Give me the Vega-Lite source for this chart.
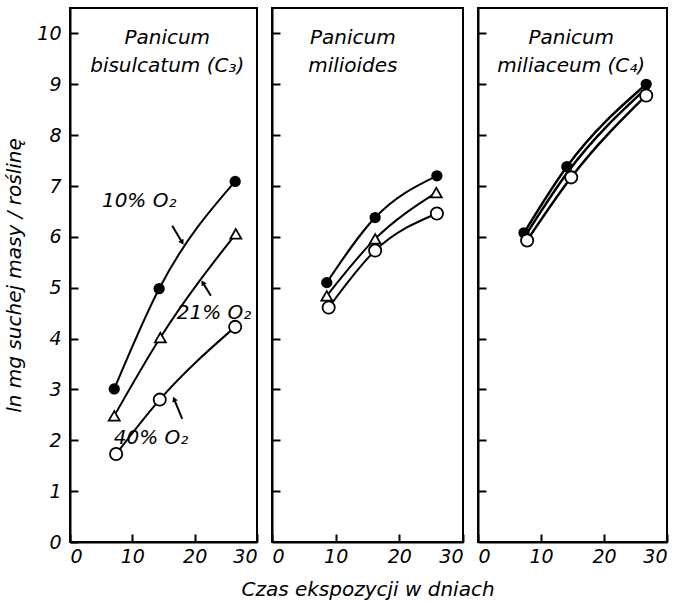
{
  "$schema": "https://vega.github.io/schema/vega-lite/v6.json",
  "background": "white",
  "padding": {"left": 3, "top": 7, "right": 10, "bottom": 5},
  "spacing": 15,
  "bounds": "flush",
  "config": {
    "font": "DejaVu Sans",
    "view": {"stroke": "black", "strokeWidth": 2},
    "axis": {
      "labelFont": "DejaVu Sans", "labelFontStyle": "italic", "labelFontSize": 19, "labelColor": "black",
      "domainColor": "black", "domainWidth": 2, "tickColor": "black", "tickWidth": 2, "tickSize": -8,
      "grid": false, "titleFont": "DejaVu Sans", "titleFontStyle": "italic", "titleFontWeight": "normal",
      "titleFontSize": 20, "titleColor": "black"
    },
    "text": {"font": "DejaVu Sans", "fontStyle": "italic", "fontSize": 20, "color": "black"}
  },
  "datasets": {
    "pts": [
      {"panel": "A", "o2": "10%", "day": 7.1, "lnmass": 3.01},
      {"panel": "A", "o2": "10%", "day": 14.3, "lnmass": 4.98},
      {"panel": "A", "o2": "10%", "day": 26.5, "lnmass": 7.09},
      {"panel": "A", "o2": "21%", "day": 7.1, "lnmass": 2.48},
      {"panel": "A", "o2": "21%", "day": 14.5, "lnmass": 4.02},
      {"panel": "A", "o2": "21%", "day": 26.6, "lnmass": 6.06},
      {"panel": "A", "o2": "40%", "day": 7.4, "lnmass": 1.73},
      {"panel": "A", "o2": "40%", "day": 14.4, "lnmass": 2.8},
      {"panel": "A", "o2": "40%", "day": 26.5, "lnmass": 4.23},
      {"panel": "B", "o2": "10%", "day": 8.6, "lnmass": 5.1},
      {"panel": "B", "o2": "10%", "day": 16.2, "lnmass": 6.38},
      {"panel": "B", "o2": "10%", "day": 25.9, "lnmass": 7.2},
      {"panel": "B", "o2": "21%", "day": 8.6, "lnmass": 4.84},
      {"panel": "B", "o2": "21%", "day": 16.2, "lnmass": 5.96},
      {"panel": "B", "o2": "21%", "day": 25.8, "lnmass": 6.87},
      {"panel": "B", "o2": "40%", "day": 8.9, "lnmass": 4.61},
      {"panel": "B", "o2": "40%", "day": 16.2, "lnmass": 5.73},
      {"panel": "B", "o2": "40%", "day": 25.9, "lnmass": 6.46},
      {"panel": "C", "o2": "10%", "day": 7.3, "lnmass": 6.08},
      {"panel": "C", "o2": "10%", "day": 14.1, "lnmass": 7.38},
      {"panel": "C", "o2": "10%", "day": 26.7, "lnmass": 9.0},
      {"panel": "C", "o2": "21%", "day": 7.5, "lnmass": 6.02},
      {"panel": "C", "o2": "21%", "day": 14.4, "lnmass": 7.3},
      {"panel": "C", "o2": "21%", "day": 26.7, "lnmass": 8.92},
      {"panel": "C", "o2": "40%", "day": 7.8, "lnmass": 5.93},
      {"panel": "C", "o2": "40%", "day": 14.8, "lnmass": 7.17},
      {"panel": "C", "o2": "40%", "day": 26.7, "lnmass": 8.78}
    ],
    "titles": [
      {"panel": "A", "label": "Panicum\nbisulcatum (C₃)", "day": 15.6, "lnmass": 10.1},
      {"panel": "B", "label": "Panicum\nmilioides", "day": 12.7, "lnmass": 10.1},
      {"panel": "C", "label": "Panicum\nmiliaceum (C₄)", "day": 14.8, "lnmass": 10.1}
    ],
    "labels": [
      {"label": "10% O₂", "day": 11.1, "lnmass": 6.71},
      {"label": "21% O₂", "day": 23.1, "lnmass": 4.5},
      {"label": "40% O₂", "day": 13.0, "lnmass": 2.05}
    ],
    "arrows": [
      {"id": "a", "day": 16.4, "lnmass": 6.22, "day2": 18.0, "lnmass2": 5.89},
      {"id": "b", "day": 22.6, "lnmass": 4.84, "day2": 21.3, "lnmass2": 5.1},
      {"id": "c", "day": 18.0, "lnmass": 2.42, "day2": 16.7, "lnmass2": 2.81}
    ]
  },
  "hconcat": [
    {
      "width": 187, "height": 534,
      "layer": [
        {
          "data": {"name": "pts"},
          "transform": [{"filter": "datum.panel === 'A'"}],
          "mark": {"type": "line", "interpolate": "monotone", "color": "black", "strokeWidth": 2},
          "encoding": {
            "x": {"field": "day", "type": "quantitative", "scale": {"domain": [0, 30], "nice": false},
                  "axis": {"values": [0, 10, 20, 30], "labelFlush": true, "title": null, "labelPadding": 13}},
            "y": {"field": "lnmass", "type": "quantitative", "scale": {"domain": [0, 10.5], "nice": false},
                  "axis": {"values": [0, 1, 2, 3, 4, 5, 6, 7, 8, 9, 10], "title": "ln mg suchej masy / roślinę", "labelPadding": 17, "titlePadding": 12}},
            "detail": {"field": "o2"}
          }
        },
        {
          "data": {"name": "pts"},
          "transform": [{"filter": "datum.panel === 'A'"}],
          "mark": {"type": "point", "filled": true, "strokeWidth": 1.8, "opacity": 1, "stroke": "black"},
          "encoding": {
            "x": {"field": "day", "type": "quantitative"},
            "y": {"field": "lnmass", "type": "quantitative"},
            "shape": {"field": "o2", "scale": {"domain": ["10%", "21%", "40%"], "range": ["circle", "triangle-up", "circle"]}, "legend": null},
            "fill": {"field": "o2", "scale": {"domain": ["10%", "21%", "40%"], "range": ["black", "white", "white"]}, "legend": null},
            "size": {"field": "o2", "scale": {"domain": ["10%", "21%", "40%"], "range": [90, 150, 90]}, "legend": null}
          }
        },
        {
          "data": {"name": "titles"},
          "transform": [{"filter": "datum.panel === 'A'"}],
          "mark": {"type": "text", "lineBreak": "\n", "baseline": "top", "lineHeight": 28},
          "encoding": {
            "x": {"field": "day", "type": "quantitative"},
            "y": {"field": "lnmass", "type": "quantitative"},
            "text": {"field": "label"}
          }
        },
        {
          "data": {"name": "labels"},
          "mark": {"type": "text"},
          "encoding": {
            "x": {"field": "day", "type": "quantitative"},
            "y": {"field": "lnmass", "type": "quantitative"},
            "text": {"field": "label"}
          }
        },
        {
          "data": {"name": "arrows"},
          "mark": {"type": "rule", "color": "black", "strokeWidth": 2},
          "encoding": {
            "x": {"field": "day", "type": "quantitative"},
            "y": {"field": "lnmass", "type": "quantitative"},
            "x2": {"field": "day2"},
            "y2": {"field": "lnmass2"}
          }
        },
        {
          "data": {"name": "arrows"},
          "transform": [{"filter": "datum.id === 'a'"}],
          "mark": {"type": "point", "shape": "triangle-up", "filled": true, "color": "black", "size": 35, "angle": 150, "opacity": 1},
          "encoding": {
            "x": {"field": "day2", "type": "quantitative"},
            "y": {"field": "lnmass2", "type": "quantitative"}
          }
        },
        {
          "data": {"name": "arrows"},
          "transform": [{"filter": "datum.id === 'b'"}],
          "mark": {"type": "point", "shape": "triangle-up", "filled": true, "color": "black", "size": 35, "angle": 328, "opacity": 1},
          "encoding": {
            "x": {"field": "day2", "type": "quantitative"},
            "y": {"field": "lnmass2", "type": "quantitative"}
          }
        },
        {
          "data": {"name": "arrows"},
          "transform": [{"filter": "datum.id === 'c'"}],
          "mark": {"type": "point", "shape": "triangle-up", "filled": true, "color": "black", "size": 35, "angle": 338, "opacity": 1},
          "encoding": {
            "x": {"field": "day2", "type": "quantitative"},
            "y": {"field": "lnmass2", "type": "quantitative"}
          }
        }
      ]
    },
    {
      "width": 191, "height": 534,
      "layer": [
        {
          "data": {"name": "pts"},
          "transform": [{"filter": "datum.panel === 'B'"}],
          "mark": {"type": "line", "interpolate": "monotone", "color": "black", "strokeWidth": 2},
          "encoding": {
            "x": {"field": "day", "type": "quantitative", "scale": {"domain": [0, 30], "nice": false},
                  "axis": {"values": [0, 10, 20, 30], "labelFlush": true, "title": "Czas ekspozycji w dniach", "labelPadding": 13, "titlePadding": 13}},
            "y": {"field": "lnmass", "type": "quantitative", "scale": {"domain": [0, 10.5], "nice": false},
                  "axis": {"values": [1, 2, 3, 4, 5, 6, 7, 8, 9, 10], "labels": false, "title": null, "minExtent": 0, "maxExtent": 0}},
            "detail": {"field": "o2"}
          }
        },
        {
          "data": {"name": "pts"},
          "transform": [{"filter": "datum.panel === 'B'"}],
          "mark": {"type": "point", "filled": true, "strokeWidth": 1.8, "opacity": 1, "stroke": "black"},
          "encoding": {
            "x": {"field": "day", "type": "quantitative"},
            "y": {"field": "lnmass", "type": "quantitative"},
            "shape": {"field": "o2", "scale": {"domain": ["10%", "21%", "40%"], "range": ["circle", "triangle-up", "circle"]}, "legend": null},
            "fill": {"field": "o2", "scale": {"domain": ["10%", "21%", "40%"], "range": ["black", "white", "white"]}, "legend": null},
            "size": {"field": "o2", "scale": {"domain": ["10%", "21%", "40%"], "range": [90, 150, 90]}, "legend": null}
          }
        },
        {
          "data": {"name": "titles"},
          "transform": [{"filter": "datum.panel === 'B'"}],
          "mark": {"type": "text", "lineBreak": "\n", "baseline": "top", "lineHeight": 28},
          "encoding": {
            "x": {"field": "day", "type": "quantitative"},
            "y": {"field": "lnmass", "type": "quantitative"},
            "text": {"field": "label"}
          }
        }
      ]
    },
    {
      "width": 189, "height": 534,
      "layer": [
        {
          "data": {"name": "pts"},
          "transform": [{"filter": "datum.panel === 'C'"}],
          "mark": {"type": "line", "interpolate": "monotone", "color": "black", "strokeWidth": 2.5},
          "encoding": {
            "x": {"field": "day", "type": "quantitative", "scale": {"domain": [0, 30], "nice": false},
                  "axis": {"values": [0, 10, 20, 30], "labelFlush": true, "title": null, "labelPadding": 13}},
            "y": {"field": "lnmass", "type": "quantitative", "scale": {"domain": [0, 10.5], "nice": false},
                  "axis": {"values": [1, 2, 3, 4, 5, 6, 7, 8, 9, 10], "labels": false, "title": null, "minExtent": 0, "maxExtent": 0}},
            "detail": {"field": "o2"}
          }
        },
        {
          "data": {"name": "pts"},
          "transform": [{"filter": "datum.panel === 'C' && datum.o2 !== '21%'"}],
          "mark": {"type": "point", "filled": true, "strokeWidth": 1.8, "opacity": 1, "stroke": "black"},
          "encoding": {
            "x": {"field": "day", "type": "quantitative"},
            "y": {"field": "lnmass", "type": "quantitative"},
            "shape": {"field": "o2", "scale": {"domain": ["10%", "21%", "40%"], "range": ["circle", "triangle-up", "circle"]}, "legend": null},
            "fill": {"field": "o2", "scale": {"domain": ["10%", "21%", "40%"], "range": ["black", "white", "white"]}, "legend": null},
            "size": {"field": "o2", "scale": {"domain": ["10%", "21%", "40%"], "range": [90, 150, 90]}, "legend": null}
          }
        },
        {
          "data": {"name": "titles"},
          "transform": [{"filter": "datum.panel === 'C'"}],
          "mark": {"type": "text", "lineBreak": "\n", "baseline": "top", "lineHeight": 28},
          "encoding": {
            "x": {"field": "day", "type": "quantitative"},
            "y": {"field": "lnmass", "type": "quantitative"},
            "text": {"field": "label"}
          }
        }
      ]
    }
  ]
}
